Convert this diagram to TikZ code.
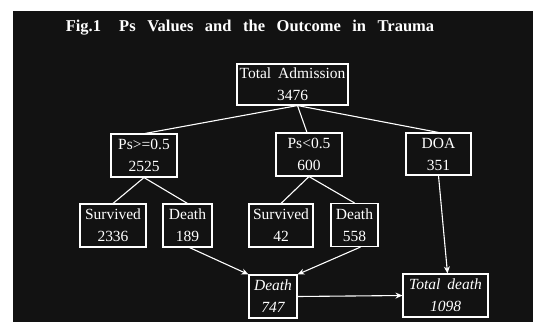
\documentclass[tikz,border=0pt]{standalone}
\usepackage{fontspec}
\setmainfont{Liberation Serif}
\usetikzlibrary{arrows.meta}
\begin{document}
\begin{tikzpicture}[x=1pt,y=-1pt,
  box/.style={draw=white,line width=1.1pt,text=white,align=center,inner sep=0pt,
    font=\fontsize{15.5}{22}\selectfont,minimum height=43pt},
  ibox/.style={box,font=\fontsize{15.5}{22}\selectfont\itshape},
  link/.style={draw=white,line width=1.1pt},
  arr/.style={link,-{Stealth[length=7pt,width=6pt]}}]
\useasboundingbox (0,0) rectangle (533,322);
\fill[white] (0,0) rectangle (533,322);
\fill[black!93] (13,11) rectangle (533,322);
\node[text=white,font=\fontsize{16.5}{18}\selectfont\bfseries] (title) at (250,28)
  {Fig.1\hspace{1.1em}Ps\hspace{0.7em}Values\hspace{0.7em}and\hspace{0.7em}the\hspace{0.7em}Outcome\hspace{0.7em}in\hspace{0.7em}Trauma};
\node[box,minimum width=111pt,minimum height=41pt] (ta) at (292.5,84.5) {Total\hspace{0.45em}Admission\\3476};
\node[box,minimum width=66pt] (p1) at (144,155.5) {Ps>=0.5\\2525};
\node[box,minimum width=66pt] (p2) at (309,154.5) {Ps<0.5\\600};
\node[box,minimum width=65pt,minimum height=42pt] (doa) at (438.5,154) {DOA\\351};
\node[box,minimum width=66pt] (s1) at (113,225.5) {Survived\\2336};
\node[box,minimum width=49pt] (d1) at (187.5,225.5) {Death\\189};
\node[box,minimum width=64pt] (s2) at (281,225.5) {Survived\\42};
\node[box,minimum width=47pt] (d2) at (354.5,225) {Death\\558};
\node[ibox,minimum width=48pt] (d3) at (273,296.5) {Death\\747};
\node[ibox,minimum width=85pt] (td) at (445.5,295.5) {Total\hspace{0.45em}death\\1098};
\coordinate (tab) at ([xshift=5pt]ta.south);
\draw[link] (tab) -- ([xshift=1pt]p1.north);
\draw[link] (tab) -- ([xshift=-2pt]p2.north);
\draw[link] (tab) -- (doa.north);
\draw[link] (p1.south) -- (s1.north);
\draw[link] (p1.south) -- (d1.north);
\draw[link] (p2.south) -- (s2.north);
\draw[link] (p2.south) -- (d2.north);
\draw[arr] ([xshift=2pt]d1.south) -- (d3.north west);
\draw[arr] ([xshift=6pt]d2.south) -- (d3.north east);
\draw[arr] (doa.south) -- ([xshift=2pt]td.north);
\draw[arr] (d3.east) -- (td.west);
\end{tikzpicture}
\end{document}
